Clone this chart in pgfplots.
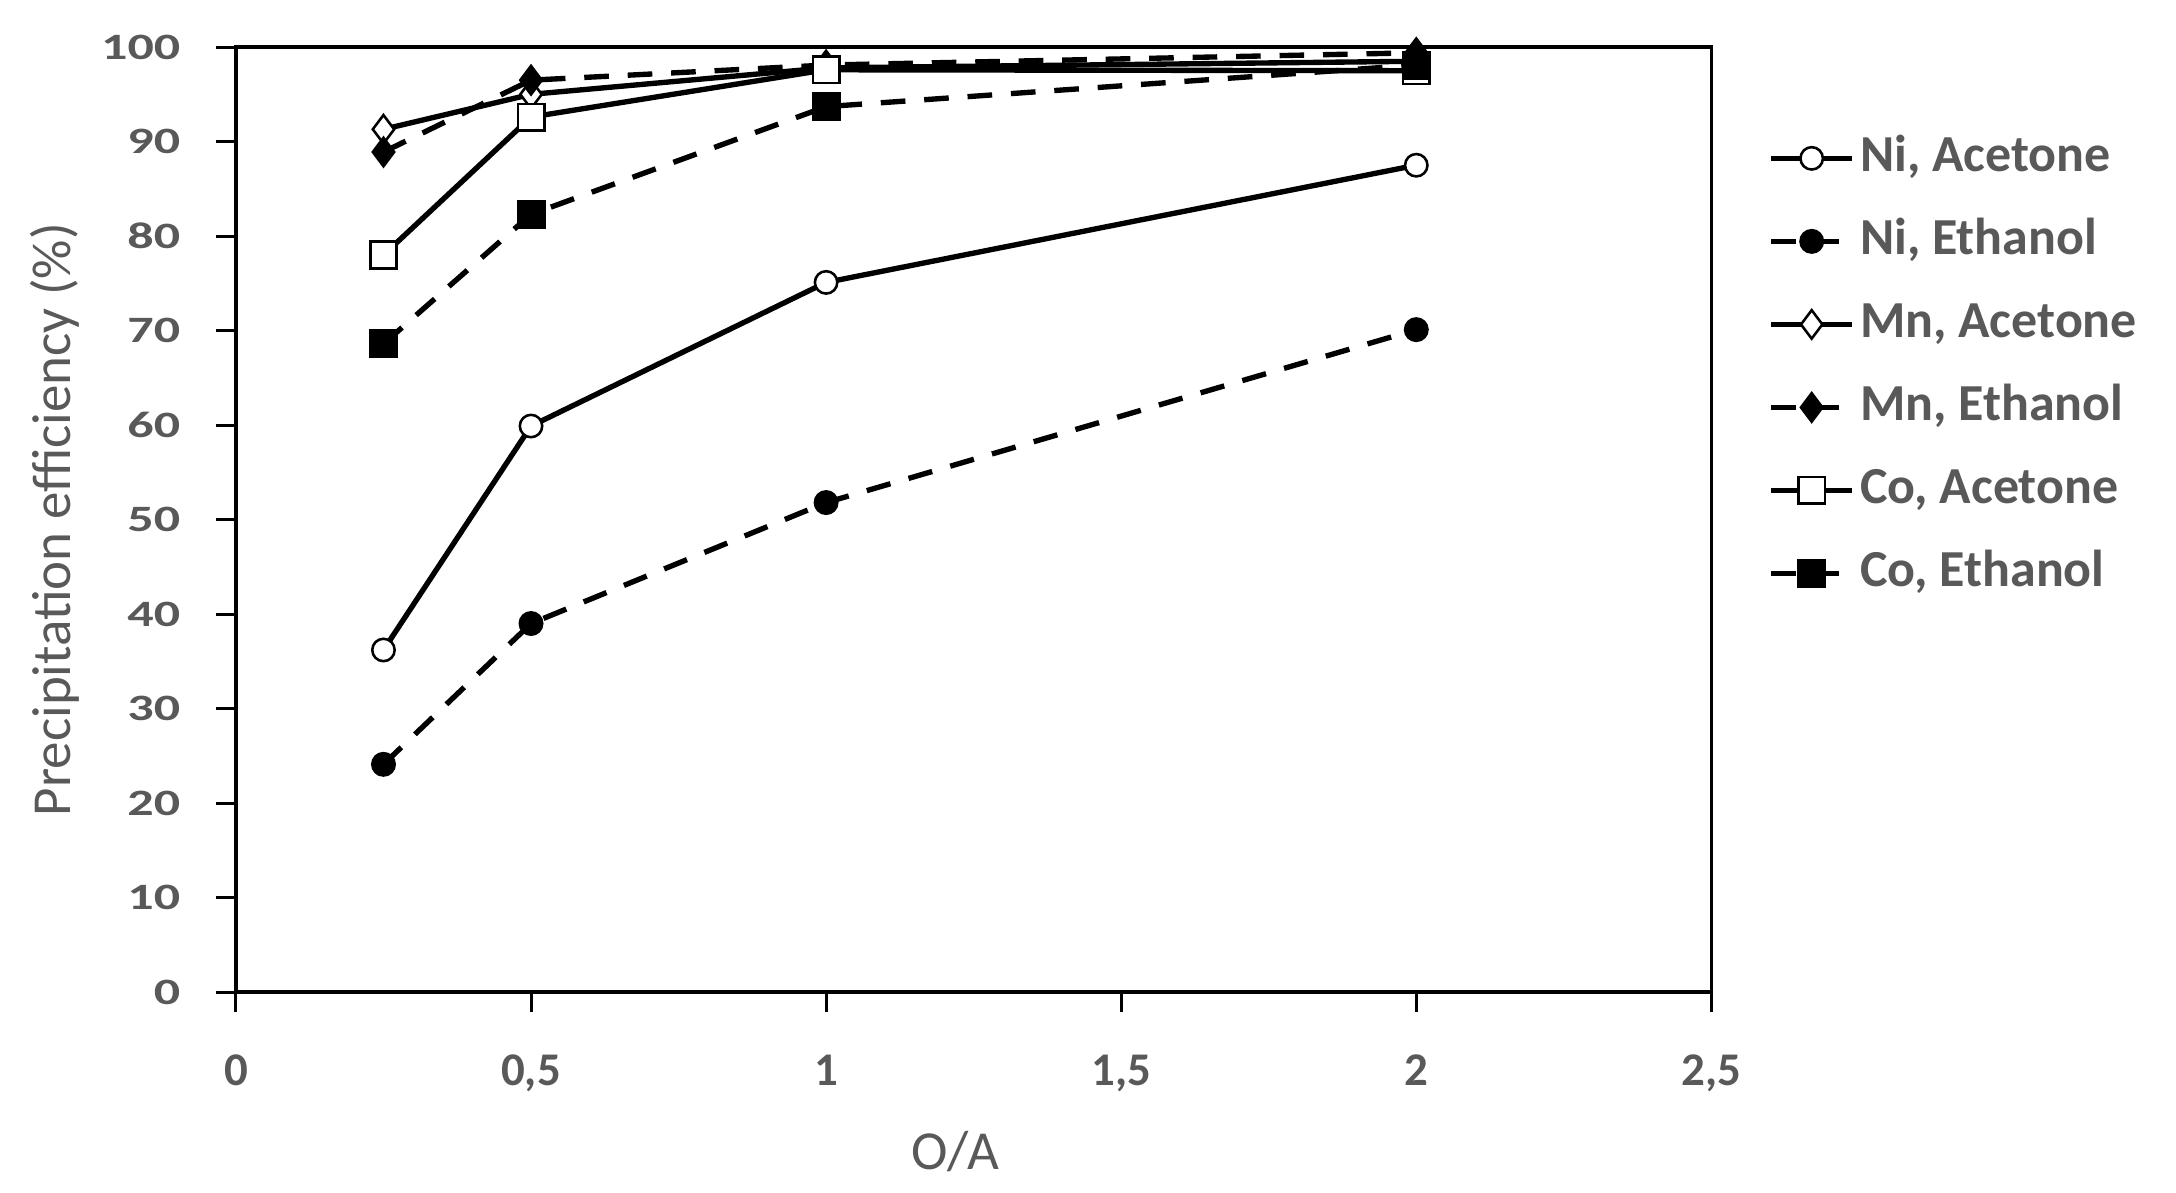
\documentclass[border=0pt]{standalone}
\usepackage{graphicx}
\usepackage{fontspec}
\setmainfont{Carlito}
\usepackage{pgfplots}
\pgfplotsset{compat=1.18}
\definecolor{txt}{HTML}{595959}

\begin{document}
\begin{tikzpicture}
\useasboundingbox (-1.628cm,-1.38cm) rectangle (13.386cm,6.845cm);
\begin{axis}[at={(0,0)},anchor=south west,scale only axis,
width=10.18cm,height=6.52cm,
xmin=0,xmax=2.5,ymin=0,ymax=100,
xtick={0,0.5,...,2.5},ytick={0,10,...,100},
xtick pos=bottom,ytick pos=left,tick align=outside,
major tick length=0.14cm,
axis line style={black,line width=0.7pt},tick style={black,line width=0.6pt},
/pgf/number format/assume math mode=true,
/pgf/number format/use comma,
xticklabel style={font=\fontsize{9.2}{10}\selectfont\bfseries,text=txt,yshift=-0.17cm},
yticklabel={\scalebox{1.4}[1]{\bfseries\pgfmathprintnumber{\tick}}},
yticklabel style={font=\fontsize{7.3}{8}\selectfont,text=txt,xshift=-0.12cm},
xlabel={O/A},ylabel={Precipitation efficiency (\%)},
label style={font=\fontsize{10.8}{12}\selectfont,text=txt},
xlabel style={at={(axis description cs:0.4875,-0.169)},anchor=center},
ylabel style={at={(axis description cs:-0.1227,0.5)},anchor=center},
every axis plot/.append style={line width=1.05pt,black},
legend cell align=left,
legend style={draw=none,at={(1.038,0.913)},anchor=north west,inner sep=0pt,
  font=\fontsize{10.2}{11}\selectfont\bfseries,text=txt,
  nodes={inner sep=1pt,text height=7pt,text depth=2pt},row sep=5.3pt},
legend image code/.code={\draw[mark repeat=2,mark phase=2] plot coordinates {(0cm,0cm)(0.28cm,0cm)(0.56cm,0cm)};},
]
\pgfplotsset{eth/.style={dash pattern=on 0.17cm off 0.13cm}}
\addplot[mark=*,mark size=2.2pt,mark options={solid,fill=white,line width=0.5pt}]
coordinates {(0.25,36.2)(0.5,59.9)(1,75.1)(2,87.5)};
\addplot[eth,mark=*,mark size=2.2pt,mark options={solid,fill=black,line width=0.5pt}]
coordinates {(0.25,24.1)(0.5,39.0)(1,51.8)(2,70.1)};
\addplot[mark=diamond*,mark size=2.8pt,mark options={solid,fill=white,line width=0.5pt}]
coordinates {(0.25,91.3)(0.5,95.0)(1,97.8)(2,98.5)};
\addplot[eth,mark=diamond*,mark size=2.8pt,mark options={solid,fill=black,line width=0.5pt}]
coordinates {(0.25,88.9)(0.5,96.5)(1,98.1)(2,99.4)};
\addplot[mark=square*,mark size=2.6pt,mark options={solid,fill=white,line width=0.5pt}]
coordinates {(0.25,78.0)(0.5,92.6)(1,97.6)(2,97.5)};
\addplot[eth,mark=square*,mark size=2.6pt,mark options={solid,fill=black,line width=0.5pt}]
coordinates {(0.25,68.6)(0.5,82.3)(1,93.7)(2,98.1)};
\legend{{Ni, Acetone},{Ni, Ethanol},{Mn, Acetone},{Mn, Ethanol},{Co, Acetone},{Co, Ethanol}}
\end{axis}
\end{tikzpicture}
\end{document}
